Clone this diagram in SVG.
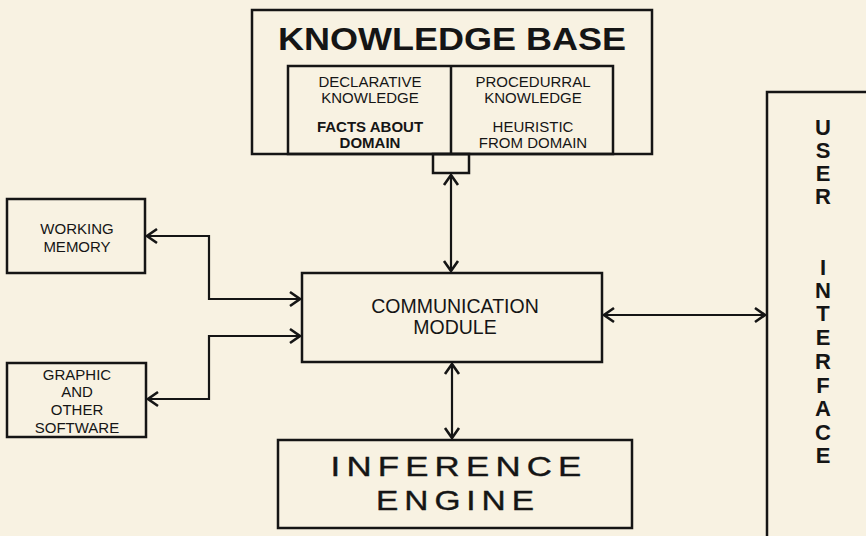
<svg xmlns="http://www.w3.org/2000/svg" width="866" height="536" viewBox="0 0 866 536">
  <style>
    .box { fill: none; stroke: #151515; stroke-width: 2.5; }
    .wire { fill: none; stroke: #151515; stroke-width: 2.2; marker-start: url(#chev); marker-end: url(#chev); }
    .t { font-family: "Liberation Sans", Arial, sans-serif; fill: #151515; text-anchor: middle; }
    .sm { font-size: 15px; }
    .b { font-weight: bold; }
    .ui { font-size: 22px; font-weight: bold; }
    .big { font-size: 28px; letter-spacing: 5px; stroke: #151515; stroke-width: 0.4; }
  </style>
  <defs>
    <marker id="chev" viewBox="-12 -9 14 18" refX="0" refY="0" markerWidth="14" markerHeight="18" markerUnits="userSpaceOnUse" orient="auto-start-reverse">
      <path d="M-10,-7 L0,0 L-10,7" fill="none" stroke="#151515" stroke-width="2.6" stroke-linejoin="miter"/>
    </marker>
  </defs>

  <rect width="866" height="536" fill="#f8f2e2"/>

  <!-- Knowledge base with its two knowledge panels -->
  <g id="knowledge-base">
    <rect class="box" x="252" y="10" width="400" height="144"/>
    <text class="t b" x="452" y="50" font-size="32" textLength="348" lengthAdjust="spacingAndGlyphs">KNOWLEDGE BASE</text>
    <rect class="box" x="288" y="66" width="325" height="88"/>
    <line class="box" x1="451" y1="66" x2="451" y2="154"/>
    <text class="t sm" x="370" y="87">DECLARATIVE</text>
    <text class="t sm" x="370" y="103">KNOWLEDGE</text>
    <text class="t sm b" x="370" y="132">FACTS ABOUT</text>
    <text class="t sm b" x="370" y="148">DOMAIN</text>
    <text class="t sm" x="533" y="87">PROCEDURRAL</text>
    <text class="t sm" x="533" y="103">KNOWLEDGE</text>
    <text class="t sm" x="533" y="132">HEURISTIC</text>
    <text class="t sm" x="533" y="148">FROM DOMAIN</text>
    <rect class="box" x="433" y="154" width="36" height="19"/>
  </g>

  <g id="working-memory">
    <rect class="box" x="7" y="199" width="138" height="74"/>
    <text class="t sm" x="77" y="234">WORKING</text>
    <text class="t sm" x="77" y="252">MEMORY</text>
  </g>

  <g id="graphic-software">
    <rect class="box" x="7" y="363" width="139" height="74"/>
    <text class="t sm" x="77" y="380">GRAPHIC</text>
    <text class="t sm" x="77" y="397">AND</text>
    <text class="t sm" x="77" y="415">OTHER</text>
    <text class="t sm" x="77" y="433">SOFTWARE</text>
  </g>

  <g id="communication-module">
    <rect class="box" x="302" y="273" width="300" height="89"/>
    <text class="t" x="455" y="313" font-size="19.5">COMMUNICATION</text>
    <text class="t" x="455" y="334" font-size="19.5">MODULE</text>
  </g>

  <g id="inference-engine">
    <rect class="box" x="278" y="440" width="354" height="88"/>
    <text class="t big" x="459" y="476" textLength="257" lengthAdjust="spacingAndGlyphs">INFERENCE</text>
    <text class="t big" x="458" y="510" textLength="164" lengthAdjust="spacingAndGlyphs">ENGINE</text>
  </g>

  <g id="user-interface">
    <rect class="box" x="767" y="92" width="130" height="470"/>
    <text class="t ui" x="823" y="135">U</text>
    <text class="t ui" x="823" y="158">S</text>
    <text class="t ui" x="823" y="181">E</text>
    <text class="t ui" x="823" y="204">R</text>
    <text class="t ui" x="823" y="275">I</text>
    <text class="t ui" x="823" y="298">N</text>
    <text class="t ui" x="823" y="321">T</text>
    <text class="t ui" x="823" y="345">E</text>
    <text class="t ui" x="823" y="369">R</text>
    <text class="t ui" x="823" y="393">F</text>
    <text class="t ui" x="823" y="416">A</text>
    <text class="t ui" x="823" y="440">C</text>
    <text class="t ui" x="823" y="463">E</text>
  </g>

  <!-- Two-way links between the modules -->
  <g id="connectors">
    <path class="wire" d="M451,175 L451,271"/>
    <path class="wire" d="M147,236 L209,236 L209,299 L300,299"/>
    <path class="wire" d="M148,399 L209,399 L209,336 L300,336"/>
    <path class="wire" d="M452,364 L452,438"/>
    <path class="wire" d="M604,315 L765,315"/>
  </g>
</svg>
